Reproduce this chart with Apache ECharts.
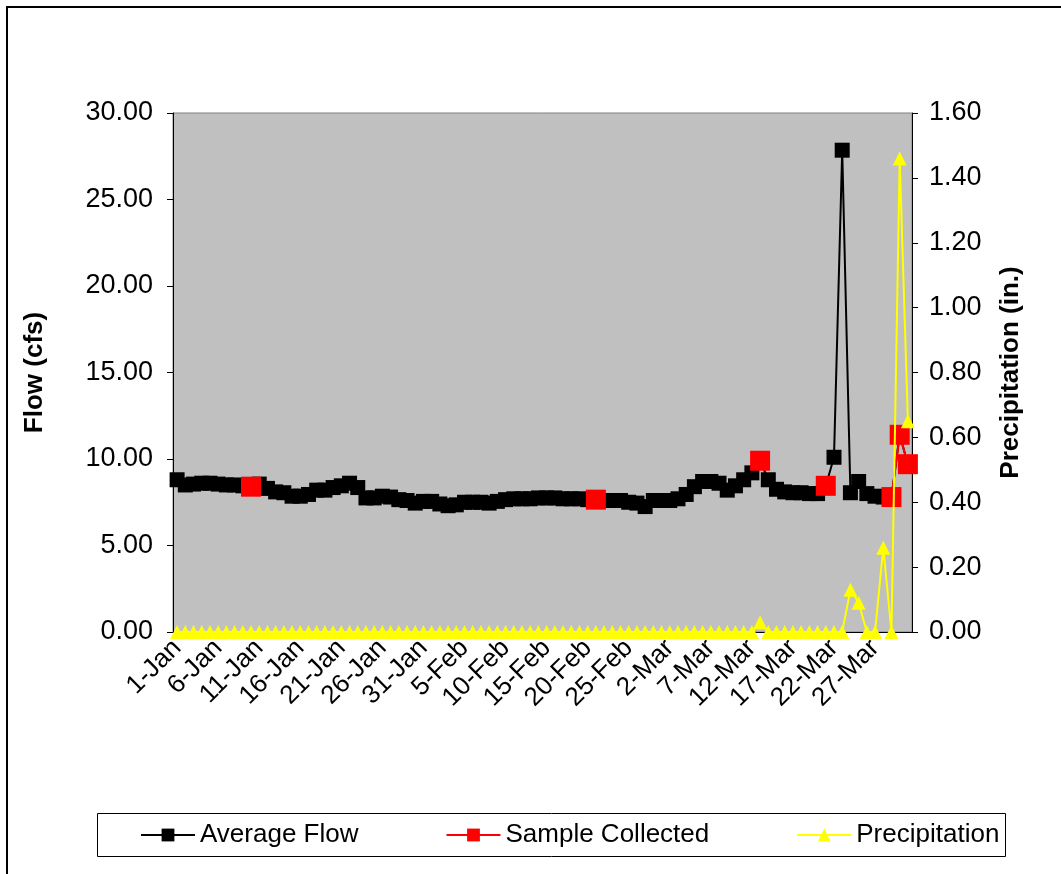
<!DOCTYPE html>
<html>
<head>
<meta charset="utf-8">
<script src="https://cdn.jsdelivr.net/npm/echarts@6/dist/echarts.min.js"></script>
<style>
html,body{margin:0;padding:0;background:#fff;}
#chart{width:1061px;height:874px;}
</style>
</head>
<body>
<div id="chart"></div>
<script>
const dates = [
'1-Jan','2-Jan','3-Jan','4-Jan','5-Jan','6-Jan','7-Jan','8-Jan','9-Jan','10-Jan',
'11-Jan','12-Jan','13-Jan','14-Jan','15-Jan','16-Jan','17-Jan','18-Jan','19-Jan','20-Jan',
'21-Jan','22-Jan','23-Jan','24-Jan','25-Jan','26-Jan','27-Jan','28-Jan','29-Jan','30-Jan',
'31-Jan','1-Feb','2-Feb','3-Feb','4-Feb','5-Feb','6-Feb','7-Feb','8-Feb','9-Feb',
'10-Feb','11-Feb','12-Feb','13-Feb','14-Feb','15-Feb','16-Feb','17-Feb','18-Feb','19-Feb',
'20-Feb','21-Feb','22-Feb','23-Feb','24-Feb','25-Feb','26-Feb','27-Feb','28-Feb','1-Mar',
'2-Mar','3-Mar','4-Mar','5-Mar','6-Mar','7-Mar','8-Mar','9-Mar','10-Mar','11-Mar',
'12-Mar','13-Mar','14-Mar','15-Mar','16-Mar','17-Mar','18-Mar','19-Mar','20-Mar','21-Mar',
'22-Mar','23-Mar','24-Mar','25-Mar','26-Mar','27-Mar','28-Mar','29-Mar','30-Mar','31-Mar'];

const averageFlow = [
8.8,8.5,8.55,8.6,8.6,8.55,8.5,8.5,8.45,8.4,
8.55,8.3,8.1,8.05,7.85,7.85,7.95,8.2,8.2,8.35,
8.45,8.6,8.35,7.75,7.75,7.85,7.8,7.65,7.6,7.45,
7.55,7.55,7.4,7.3,7.35,7.5,7.5,7.5,7.45,7.55,
7.65,7.7,7.7,7.7,7.75,7.75,7.75,7.7,7.7,7.7,
7.65,7.65,7.6,7.6,7.6,7.5,7.45,7.25,7.6,7.6,
7.6,7.7,7.95,8.4,8.7,8.7,8.6,8.2,8.45,8.8,
9.2,9.9,8.8,8.25,8.1,8.05,8.05,8.0,8.0,8.45,
10.1,27.85,8.05,8.7,8.0,7.85,7.8,7.8,11.4,9.7];

const sampleCollected = [
null,null,null,null,null,null,null,null,null,8.4,
null,null,null,null,null,null,null,null,null,null,
null,null,null,null,null,null,null,null,null,null,
null,null,null,null,null,null,null,null,null,null,
null,null,null,null,null,null,null,null,null,null,
null,7.65,null,null,null,null,null,null,null,null,
null,null,null,null,null,null,null,null,null,null,
null,9.9,null,null,null,null,null,null,null,8.45,
null,null,null,null,null,null,null,7.8,11.4,9.7];

const precipitation = [
0,0,0,0,0,0,0,0,0,0,
0,0,0,0,0,0,0,0,0,0,
0,0,0,0,0,0,0,0,0,0,
0,0,0,0,0,0,0,0,0,0,
0,0,0,0,0,0,0,0,0,0,
0,0,0,0,0,0,0,0,0,0,
0,0,0,0,0,0,0,0,0,0,
0,0.03,0,0,0,0,0,0,0,0,
0,0,0.13,0.09,0,0,0.26,0,1.46,0.65];

const FONT = 'Liberation Sans, Arial, sans-serif';
const chart = echarts.init(document.getElementById('chart'));
const option = {
  animation: false,
  backgroundColor: '#ffffff',
  textStyle: { fontFamily: FONT, color: '#000' },
  grid: { left: 173, right: 149, top: 113, bottom: 242, show: true,
          backgroundColor: '#C0C0C0', borderColor: '#808080', borderWidth: 1 },
  graphic: [
    { type: 'rect', shape: { x: 7, y: 7, width: 1100, height: 900 },
      style: { fill: 'none', stroke: '#000', lineWidth: 2 }, silent: true },
    { type: 'rect', shape: { x: 97.5, y: 813.5, width: 908, height: 43 },
      style: { fill: 'none', stroke: '#000', lineWidth: 1 }, silent: true }
  ],
  legend: {
    left: 135, top: 817, padding: 5, itemWidth: 54, itemHeight: 16, itemGap: 87,
    textStyle: { fontSize: 26, color: '#000', fontFamily: FONT },
    data: ['Average Flow', 'Sample Collected', 'Precipitation']
  },
  xAxis: {
    type: 'category', data: dates, boundaryGap: true,
    axisLine: { lineStyle: { color: '#000', width: 1 } },
    axisTick: { interval: 4, length: 5, lineStyle: { color: '#000' } },
    axisLabel: { interval: 4, rotate: 45, fontSize: 26, color: '#000', margin: 12, fontFamily: FONT }
  },
  yAxis: [
    { type: 'value', min: 0, max: 30, interval: 5, position: 'left',
      name: 'Flow (cfs)', nameLocation: 'middle', nameRotate: 90, nameGap: 125,
      nameTextStyle: { fontWeight: 'bold', fontSize: 26, color: '#000', fontFamily: FONT },
      axisLine: { show: true, lineStyle: { color: '#000' } },
      axisTick: { show: true, length: 6, lineStyle: { color: '#000' } },
      axisLabel: { formatter: v => v.toFixed(2), fontSize: 27, color: '#000', margin: 20, fontFamily: FONT },
      splitLine: { show: false } },
    { type: 'value', min: 0, max: 1.6, interval: 0.2, position: 'right',
      name: 'Precipitation (in.)', nameLocation: 'middle', nameRotate: 90, nameGap: 86,
      nameTextStyle: { fontWeight: 'bold', fontSize: 26, color: '#000', fontFamily: FONT },
      axisLine: { show: true, lineStyle: { color: '#000' } },
      axisTick: { show: true, length: 6, lineStyle: { color: '#000' } },
      axisLabel: { formatter: v => v.toFixed(2), fontSize: 27, color: '#000', margin: 17, fontFamily: FONT },
      splitLine: { show: false } }
  ],
  series: [
    { name: 'Average Flow', type: 'line', data: averageFlow, yAxisIndex: 0,
      symbol: 'rect', symbolSize: 15, showAllSymbol: true, z: 2,
      itemStyle: { color: '#000' }, lineStyle: { color: '#000', width: 2 } },
    { name: 'Sample Collected', type: 'line', data: sampleCollected, yAxisIndex: 0,
      symbol: 'rect', symbolSize: 20, showAllSymbol: true, connectNulls: false, z: 3,
      itemStyle: { color: '#FF0000' }, lineStyle: { color: '#FF0000', width: 2 } },
    { name: 'Precipitation', type: 'line', data: precipitation, yAxisIndex: 1,
      symbol: 'triangle', symbolSize: 14, showAllSymbol: true, z: 4,
      itemStyle: { color: '#FFFF00' }, lineStyle: { color: '#FFFF00', width: 2 } }
  ]
};
chart.setOption(option);
</script>
</body>
</html>
